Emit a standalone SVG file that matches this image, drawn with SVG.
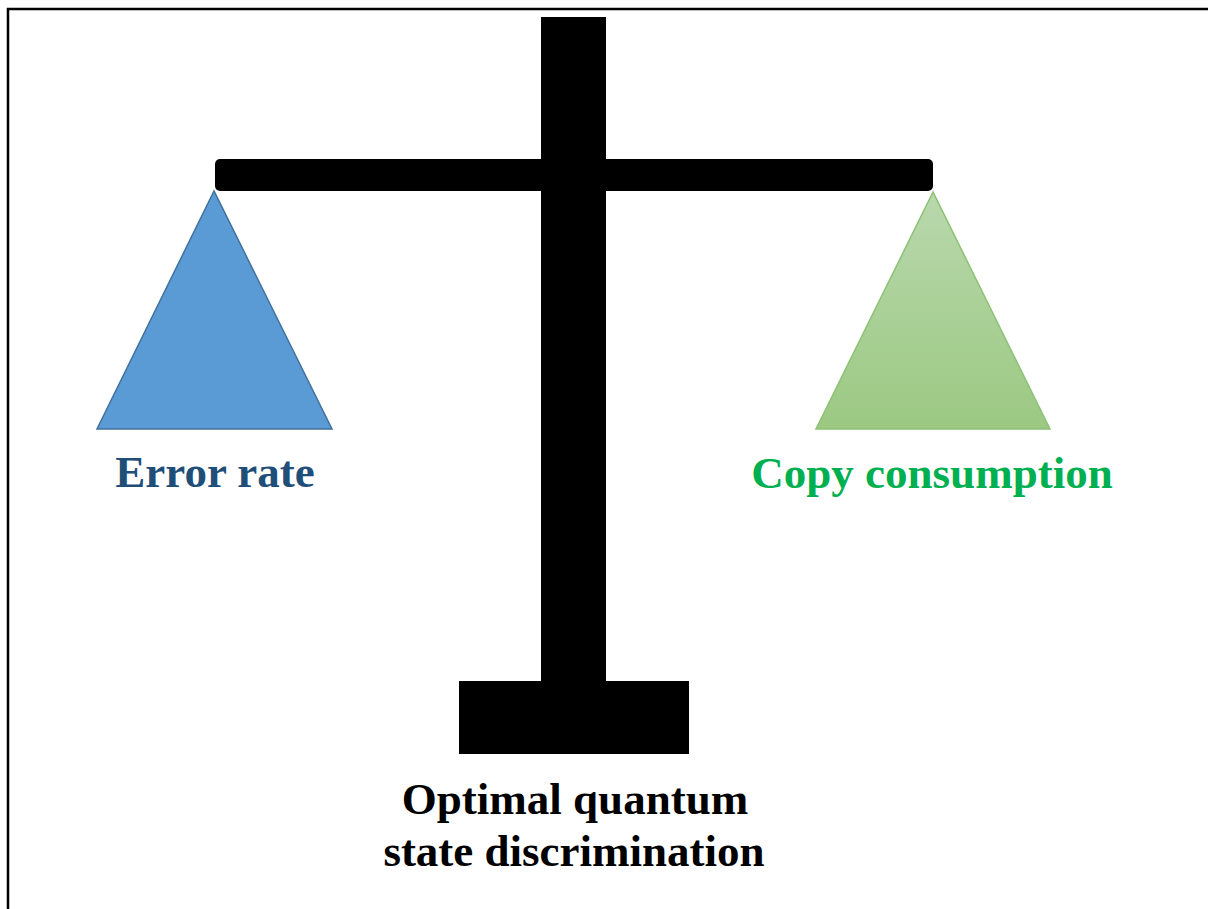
<svg xmlns="http://www.w3.org/2000/svg" width="1208" height="909" viewBox="0 0 1208 909">
  <style>
    .bar { fill: #000000; }
    .label { font-family: "Liberation Serif", "Times New Roman", serif; font-weight: bold; font-size: 45px; text-anchor: middle; }
  </style>
  <defs>
    <linearGradient id="greenFill" x1="0" y1="0" x2="0" y2="1">
      <stop offset="0" stop-color="#B9D8AD"/>
      <stop offset="1" stop-color="#9BC982"/>
    </linearGradient>
  </defs>
  <rect x="0" y="0" width="1208" height="909" fill="#ffffff"/>
  <!-- frame: top and left edges -->
  <path d="M8 909 V9 H1208" fill="none" stroke="#000000" stroke-width="2.5"/>

  <g id="scale">
    <rect class="bar" x="541" y="17" width="65" height="666"/>
    <rect class="bar" x="459" y="681" width="230" height="73"/>
    <rect class="bar" x="215" y="159" width="718" height="32" rx="5" ry="5"/>
  </g>

  <g id="error-pan">
    <polygon points="214,191 97,429 332,429" fill="#5B9BD5" stroke="#41719C" stroke-width="1.5"/>
    <text class="label" x="215" y="487" fill="#1F4E79">Error rate</text>
  </g>

  <g id="copy-pan">
    <polygon points="933,192 816,429 1050,429" fill="url(#greenFill)" stroke="#8CC174" stroke-width="1.5"/>
    <text class="label" x="932" y="488" fill="#00B050">Copy consumption</text>
  </g>

  <g id="balance-label">
    <text class="label" x="575" y="814" fill="#000000">Optimal quantum</text>
    <text class="label" x="574" y="866" fill="#000000">state discrimination</text>
  </g>
</svg>
